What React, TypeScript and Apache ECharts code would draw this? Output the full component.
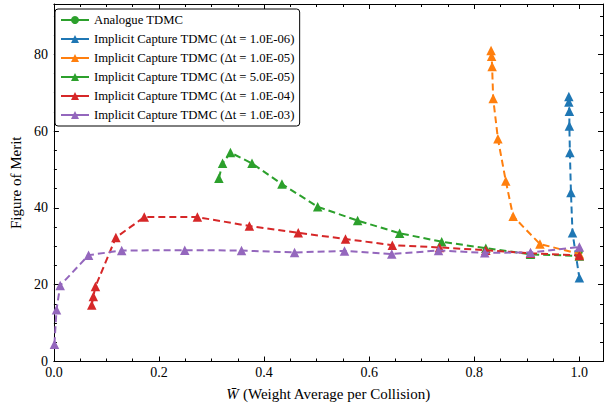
import React, { useEffect, useRef } from 'react';
import * as echarts from 'echarts';

const FONT = '"Liberation Serif", "DejaVu Serif", serif';

// ---- data ----
const seriesNames = [
  'Analogue TDMC',
  'Implicit Capture TDMC (Δt = 1.0E-06)',
  'Implicit Capture TDMC (Δt = 1.0E-05)',
  'Implicit Capture TDMC (Δt = 5.0E-05)',
  'Implicit Capture TDMC (Δt = 1.0E-04)',
  'Implicit Capture TDMC (Δt = 1.0E-03)',
];
const seriesColors = ['#2ca02c', '#1f77b4', '#ff7f0e', '#2ca02c', '#d62728', '#9467bd'];

const analogue = [[1.0, 28.6]];
const dt1e6 = [
  [0.98, 69.0], [0.98, 67.6], [0.981, 65.2], [0.981, 61.3], [0.982, 54.4],
  [0.984, 44.0], [0.987, 33.5], [1.0, 21.8],
];
const dt1e5 = [
  [0.832, 81.0], [0.833, 79.5], [0.834, 76.8], [0.836, 68.5], [0.845, 58.0],
  [0.86, 47.0], [0.874, 37.8], [0.925, 30.6], [1.0, 28.0],
];
const dt5e5 = [
  [0.314, 47.7], [0.321, 51.6], [0.336, 54.4], [0.377, 51.6], [0.434, 46.2],
  [0.502, 40.3], [0.578, 36.7], [0.658, 33.4], [0.738, 31.2], [0.822, 29.5],
  [0.907, 27.9], [1.0, 27.5],
];
const dt1e4 = [
  [0.072, 14.7], [0.075, 16.9], [0.079, 19.5], [0.118, 32.3], [0.172, 37.6],
  [0.273, 37.6], [0.372, 35.3], [0.465, 33.5], [0.555, 31.9], [0.644, 30.3],
  [0.734, 29.7], [0.822, 29.0], [0.907, 28.2], [1.0, 27.6],
];
const dt1e3 = [
  [0.001, 4.5], [0.005, 13.5], [0.012, 19.8], [0.066, 27.7], [0.129, 28.9],
  [0.249, 29.0], [0.357, 28.9], [0.458, 28.4], [0.553, 28.8], [0.643, 28.0],
  [0.732, 28.9], [0.82, 28.3], [0.907, 28.4], [1.0, 29.8],
];
const allData = [analogue, dt1e6, dt1e5, dt5e5, dt1e4, dt1e3];

const X_MIN = 0;
const X_MAX = 1.045;
const X_MAJOR = 0.2;
const X_MINOR = 0.05;
const Y_MIN = 0;
const Y_MAX = 93.1;
const Y_MAJOR = 20;
const Y_MINOR = 5;

const X_NAME = '{i|W\u0304} (Weight Average per Collision)';
const Y_NAME = 'Figure of Merit';

function makeAxis(kind: 'x' | 'y', position: string, interval: number, tickLen: number, showLine: boolean, showLabel: boolean) {
  const isX = kind === 'x';
  return {
    type: 'value',
    position,
    min: isX ? X_MIN : Y_MIN,
    max: isX ? X_MAX : Y_MAX,
    interval,
    axisLine: { show: showLine, onZero: false, lineStyle: { color: '#000', width: 1 } },
    axisTick: { show: true, inside: true, length: tickLen, lineStyle: { color: '#000', width: 1 } },
    axisLabel: {
      show: showLabel,
      showMaxLabel: false,
      margin: isX ? 4 : 6,
      fontSize: 14,
      color: '#000',
      fontFamily: FONT,
      formatter: isX ? (v: number) => v.toFixed(1) : (v: number) => String(Math.round(v)),
    },
    splitLine: { show: false },
    minorTick: { show: false },
  };
}

export default function App() {
  const ref = useRef<HTMLDivElement>(null);
  useEffect(() => {
    if (!ref.current) return;
    const chart = echarts.init(ref.current, undefined, { renderer: 'svg' });

    const xMain: any = makeAxis('x', 'bottom', X_MAJOR, 5, true, true);
    xMain.name = X_NAME;
    xMain.nameLocation = 'middle';
    xMain.nameGap = 25;
    xMain.nameTextStyle = {
      fontSize: 15, color: '#000', fontFamily: FONT,
      rich: { i: { fontSize: 15, fontStyle: 'italic', fontFamily: FONT, color: '#000' } },
    };
    const yMain: any = makeAxis('y', 'left', Y_MAJOR, 5, true, true);
    yMain.name = Y_NAME;
    yMain.nameLocation = 'middle';
    yMain.nameGap = 29;
    yMain.nameTextStyle = { fontSize: 15, color: '#000', fontFamily: FONT };

    const series = allData.map((d, i) => ({
      name: seriesNames[i],
      type: 'line',
      data: d,
      xAxisIndex: 0,
      yAxisIndex: 0,
      symbol: i === 0 ? 'circle' : 'triangle',
      symbolSize: i === 0 ? 7 : 9.5,
      showSymbol: true,
      lineStyle: { color: seriesColors[i], width: 2, type: i === 0 ? 'solid' : [7, 4] },
      itemStyle: { color: seriesColors[i], borderWidth: 0 },
      emphasis: { disabled: true },
      z: 2 + i,
    }));

    chart.setOption({
      animation: false,
      backgroundColor: '#fff',
      grid: { left: 51, right: 1, top: 4, bottom: 46.5, containLabel: false },
      xAxis: [
        xMain,
        makeAxis('x', 'bottom', X_MINOR, 3, false, false),
        makeAxis('x', 'top', X_MAJOR, 5, true, false),
        makeAxis('x', 'top', X_MINOR, 3, false, false),
      ],
      yAxis: [
        yMain,
        makeAxis('y', 'left', Y_MINOR, 3, false, false),
        makeAxis('y', 'right', Y_MAJOR, 5, true, false),
        makeAxis('y', 'right', Y_MINOR, 3, false, false),
      ],
      legend: {
        orient: 'vertical',
        left: 55,
        top: 9,
        padding: [4, 5, 4, 5],
        itemWidth: 28,
        itemHeight: 10,
        itemGap: 5,
        backgroundColor: '#fff',
        borderColor: '#000',
        borderWidth: 1,
        borderRadius: 3,
        lineStyle: { type: 'solid', width: 2 },
        textStyle: { fontSize: 12.7, fontFamily: FONT, color: '#000', lineHeight: 14 },
        data: seriesNames.map((n) => ({ name: n })),
        selectedMode: false,
      },
      series,
    });
    return () => chart.dispose();
  }, []);
  return <div ref={ref} style={{ position: 'fixed', left: 0, top: 0, width: 604, height: 408 }} />;
}
